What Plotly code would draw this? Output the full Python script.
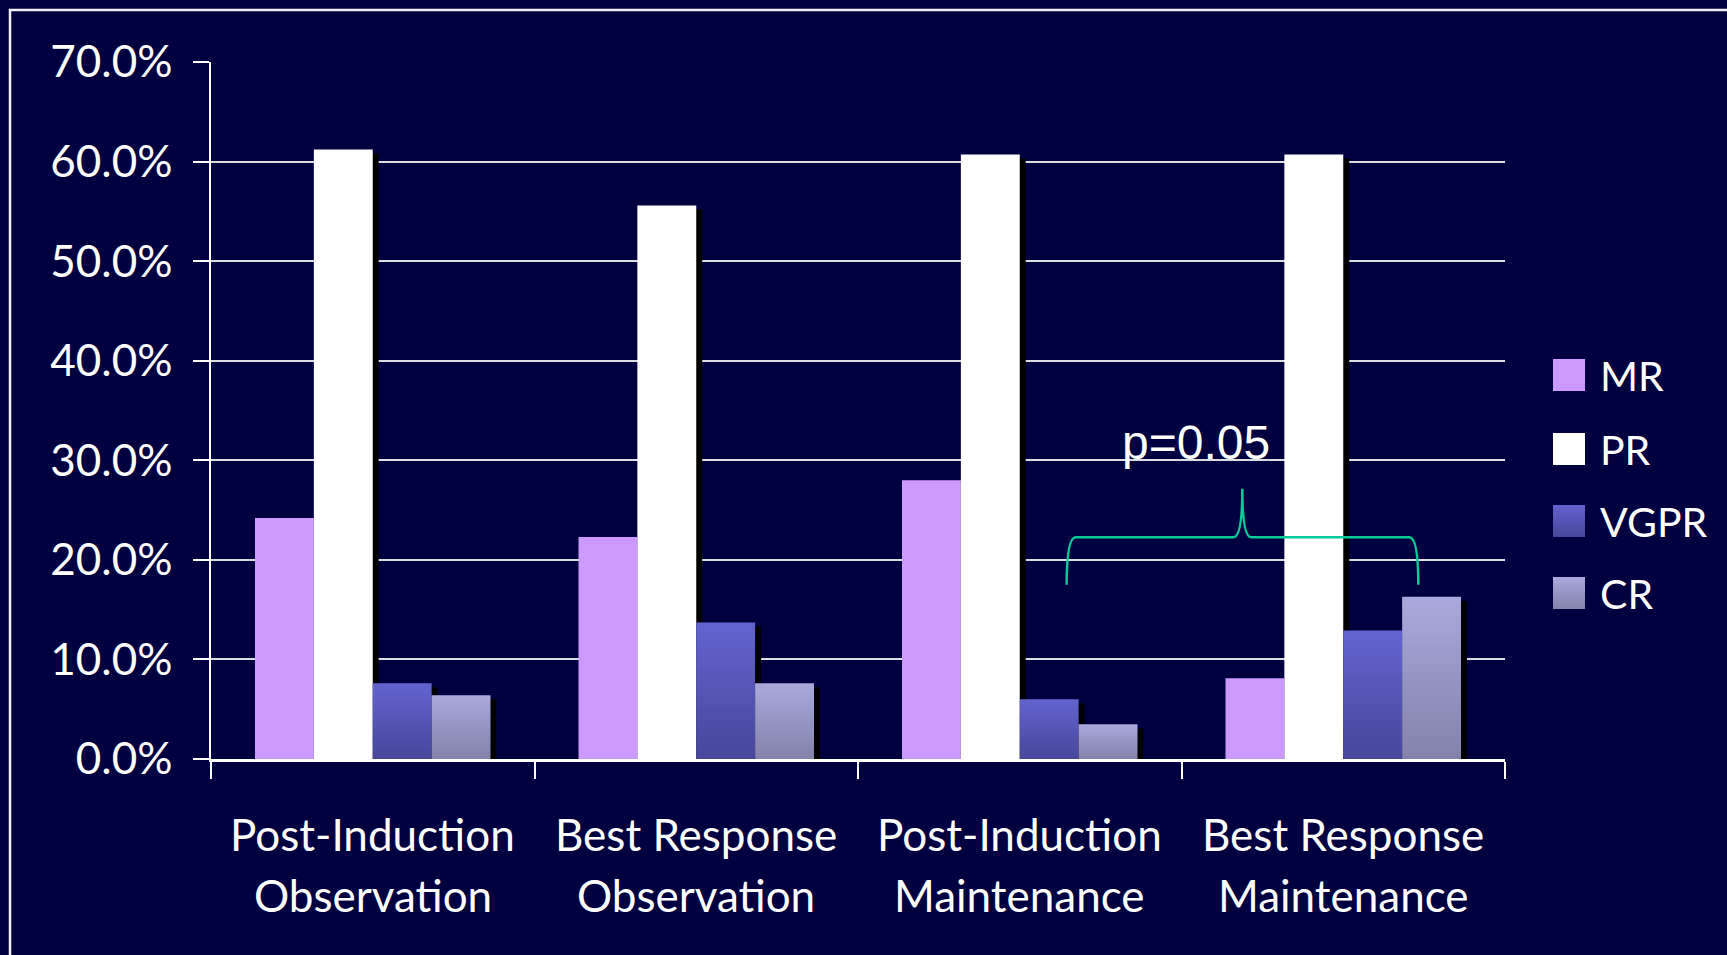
import plotly.graph_objects as go

# Response rates by assessment point and treatment arm
line1 = ["Post-Induction", "Best Response", "Post-Induction", "Best Response"]
line2 = ["Observation", "Observation", "Maintenance", "Maintenance"]
series_names = ["MR", "PR", "VGPR", "CR"]
mr = [0.242, 0.223, 0.280, 0.081]
pr = [0.612, 0.556, 0.607, 0.607]
vgpr = [0.076, 0.137, 0.060, 0.129]
cr = [0.064, 0.076, 0.035, 0.163]
y_ticks = [0.0, 0.1, 0.2, 0.3, 0.4, 0.5, 0.6, 0.7]

BG = "#000040"
FONT = "Lato"
MR_COLOR = "#CC99FF"
PR_COLOR = "#FFFFFF"
VGPR_TOP, VGPR_BOTTOM = "#6363D0", "#47479A"
CR_TOP, CR_BOTTOM = "#A9A9DD", "#8282AA"

W, H = 1727, 955
PLOT_L, PLOT_R, PLOT_T, PLOT_B = 211, 1505, 62, 759
BAR_W = 0.182
SHADOW_DX = 0.0185
SHADOW_DY = 0.004

values = [mr, pr, vgpr, cr]
offsets = [-2 * BAR_W, -BAR_W, 0.0, BAR_W]
xs = list(range(len(line1)))

fig = go.Figure()

# drop shadows behind every bar
for vals, off in zip(values, offsets):
    fig.add_trace(go.Bar(
        x=xs, y=[v - SHADOW_DY for v in vals], offset=off + SHADOW_DX, width=BAR_W,
        marker=dict(color="#000000", line=dict(width=0)),
        showlegend=False, hoverinfo="skip"))

# solid bars
for name, vals, off, col in [("MR", mr, offsets[0], MR_COLOR), ("PR", pr, offsets[1], PR_COLOR)]:
    fig.add_trace(go.Bar(
        x=xs, y=vals, offset=off, width=BAR_W, name=name,
        marker=dict(color=col, line=dict(width=0)), showlegend=False))

# gradient bars, each filled polygon spans 0..value
for name, vals, off, top, bottom in [("VGPR", vgpr, offsets[2], VGPR_TOP, VGPR_BOTTOM),
                                     ("CR", cr, offsets[3], CR_TOP, CR_BOTTOM)]:
    for i, v in zip(xs, vals):
        x0, x1 = i + off, i + off + BAR_W
        fig.add_trace(go.Scatter(
            x=[x0, x1, x1, x0, x0], y=[0, 0, v, v, 0], mode="lines",
            fill="toself", line=dict(width=0, color="rgba(0,0,0,0)"),
            fillgradient=dict(type="vertical", start=0, stop=v,
                              colorscale=[[0, bottom], [1, top]]),
            name=name, showlegend=False, hoverinfo="skip"))

# legend swatches on a full-figure pixel overlay
leg_y = [375, 449, 521, 593]
leg_top = [MR_COLOR, PR_COLOR, VGPR_TOP, CR_TOP]
leg_bottom = [MR_COLOR, PR_COLOR, VGPR_BOTTOM, CR_BOTTOM]
fig.add_trace(go.Scatter(
    x=[1569] * 4, y=leg_y, mode="markers", xaxis="x2", yaxis="y2",
    marker=dict(symbol="square", size=32, color=leg_top, line=dict(width=0),
                gradient=dict(type="vertical", color=leg_bottom)),
    showlegend=False, hoverinfo="skip"))

annotations = []
for name, yy in zip(series_names, leg_y):
    annotations.append(dict(x=1598, y=yy, xref="x2", yref="y2", text=name, showarrow=False,
                            xanchor="left", yanchor="middle",
                            font=dict(family=FONT, size=41, color="white")))

# two-line category labels
for i, (a, b) in enumerate(zip(line1, line2)):
    annotations.append(dict(x=i, y=834, xref="x", yref="y2", text=a, showarrow=False,
                            xanchor="center", yanchor="middle",
                            font=dict(family=FONT, size=44, color="white")))
    annotations.append(dict(x=i, y=895, xref="x", yref="y2", text=b, showarrow=False,
                            xanchor="center", yanchor="middle",
                            font=dict(family=FONT, size=44, color="white")))

annotations.append(dict(x=2.546, y=0.318, xref="x", yref="y", text="p=0.05", showarrow=False,
                        xanchor="center", yanchor="middle",
                        font=dict(family="Liberation Sans", size=48, color="white")))

# significance brace between the CR bars
bx0, bx1, bpk = 2.145, 3.232, 2.688
by0, byh, byt = 0.175, 0.2226, 0.2714
d = 0.028
brace = (f"M{bx0},{by0} Q{bx0},{byh} {bx0 + d},{byh} L{bpk - d},{byh} "
         f"Q{bpk},{byh} {bpk},{byt} Q{bpk},{byh} {bpk + d},{byh} "
         f"L{bx1 - d},{byh} Q{bx1},{byh} {bx1},{by0}")

shapes = [
    dict(type="path", path=brace, xref="x", yref="y", line=dict(color="#00CC99", width=2.5)),
    dict(type="rect", xref="paper", yref="paper", x0=10 / W, x1=1.05, y0=-0.05, y1=1 - 10 / H,
         line=dict(color="#F0F0F8", width=2.5), fillcolor="rgba(0,0,0,0)", layer="below"),
]

fig.update_layout(
    width=W, height=H, margin=dict(l=0, r=0, t=0, b=0, pad=0, autoexpand=False),
    paper_bgcolor=BG, plot_bgcolor="rgba(0,0,0,0)", barmode="overlay",
    showlegend=False, annotations=annotations, shapes=shapes,
    xaxis=dict(domain=[PLOT_L / W, PLOT_R / W], range=[-0.5, 3.5], fixedrange=True,
               tickmode="array", tickvals=[-0.5, 0.5, 1.5, 2.5, 3.5], ticktext=[""] * 5,
               ticks="outside", ticklen=17, tickwidth=1.5, tickcolor="white",
               showline=True, linecolor="white", linewidth=3, showgrid=False, zeroline=False,
               automargin=False),
    yaxis=dict(domain=[1 - PLOT_B / H, 1 - PLOT_T / H], range=[0, 0.7], fixedrange=True,
               tickmode="array", tickvals=y_ticks, tickformat=".1%",
               ticks="outside", ticklen=16, tickwidth=1.5, tickcolor="white",
               ticklabelstandoff=12,
               tickfont=dict(family=FONT, size=44, color="white"),
               showline=True, linecolor="white", linewidth=1.5,
               showgrid=True, gridcolor="#DCDCE4", gridwidth=1.8, zeroline=False,
               automargin=False),
    xaxis2=dict(domain=[0, 1], range=[0, W], anchor="y2", visible=False, fixedrange=True,
                automargin=False),
    yaxis2=dict(domain=[0, 1], range=[H, 0], anchor="x2", visible=False, fixedrange=True,
                automargin=False),
)

fig.write_html("out.html")
